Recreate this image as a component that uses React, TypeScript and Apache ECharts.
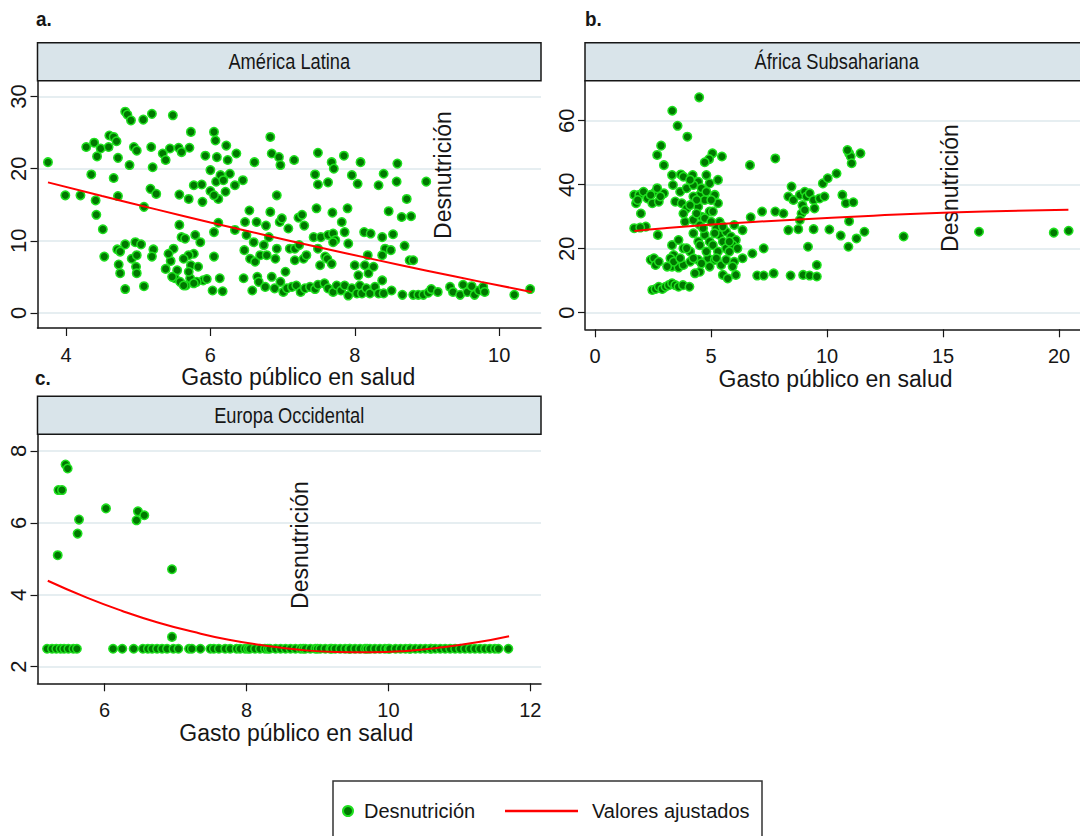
import React, { useEffect, useRef } from "react";
import * as echarts from "echarts";

const REG = "'Liberation Sans', Arial, sans-serif";

const panelTitles = ["América Latina", "África Subsahariana", "Europa Occidental"];
const panelLetters = ["a.", "b.", "c."];
const xTitle = "Gasto público en salud";
const yTitle = "Desnutrición";
const fitName = "Valores ajustados";

const xTicksA = [4, 6, 8, 10];
const yTicksA = [0, 10, 20, 30];
const xTicksB = [0, 5, 10, 15, 20];
const yTicksB = [0, 20, 40, 60];
const xTicksC = [6, 8, 10, 12];
const yTicksC = [2, 4, 6, 8];

// América Latina: [gasto, desnutrición]
const latamPoints = [
  [4.82, 27.9], [4.85, 27.5], [4.9, 26.7], [5.07, 26.8], [5.19, 27.6], [5.48, 27.4],
  [3.75, 20.9], [4.28, 23.0], [4.39, 23.6], [4.43, 21.7], [4.48, 22.8], [4.59, 23.0],
  [4.6, 24.6], [4.66, 24.4], [4.7, 23.8], [4.72, 21.5], [4.88, 20.5], [4.94, 23.0],
  [4.98, 22.5], [5.18, 23.0], [5.2, 20.2], [5.34, 22.1], [5.38, 21.2], [5.44, 22.8],
  [5.56, 22.9], [5.6, 22.3], [5.71, 22.9], [5.73, 25.1], [5.93, 21.8], [6.05, 25.1],
  [6.07, 23.9], [6.09, 21.6], [6.22, 23.2], [6.24, 21.2], [6.36, 22.1], [6.61, 20.9],
  [6.83, 24.4], [6.85, 22.1], [6.95, 21.6], [6.97, 20.5], [6.0, 19.8], [4.35, 19.2],
  [4.66, 18.7], [3.99, 16.3], [4.2, 16.3], [4.41, 15.6], [4.42, 13.6], [4.51, 11.6],
  [4.72, 16.2], [5.08, 14.7], [5.17, 17.2], [5.25, 16.5], [5.57, 16.4], [5.7, 15.8],
  [5.77, 17.7], [5.88, 17.8], [5.89, 15.4], [6.0, 16.9], [6.08, 18.2], [6.14, 19.1],
  [6.18, 18.4], [6.21, 16.8], [6.27, 19.3], [6.34, 17.7], [6.45, 18.4], [6.11, 15.8],
  [6.05, 16.3], [6.11, 12.5], [6.05, 11.2], [6.34, 11.5], [6.92, 16.3],
  [4.53, 7.8], [4.71, 8.8], [4.73, 6.7], [4.75, 5.5], [4.82, 9.5], [4.91, 7.5],
  [4.96, 9.8], [4.97, 6.4], [4.98, 5.5], [5.04, 9.5], [5.08, 3.7], [4.82, 3.3],
  [5.21, 8.8], [5.19, 7.8], [5.38, 6.1], [5.45, 7.2], [5.49, 8.9], [5.54, 5.9],
  [5.57, 12.2], [5.6, 10.5], [5.65, 10.3], [5.51, 4.8], [5.58, 4.3], [5.66, 3.8],
  [5.72, 4.8], [5.77, 8.2], [5.73, 6.6], [5.79, 10.8], [5.83, 6.4], [5.86, 9.8],
  [5.9, 4.5], [5.95, 4.7], [6.03, 3.1], [6.05, 7.8], [6.13, 4.8], [6.17, 3.0],
  [5.81, 4.3], [5.7, 8.0], [6.46, 4.8], [6.47, 8.7], [6.48, 12.6], [6.5, 10.8],
  [6.54, 14.2], [6.55, 7.5], [6.58, 3.1], [6.6, 9.8], [6.62, 7.1], [6.64, 12.6],
  [6.65, 5.0], [6.67, 4.3], [6.69, 8.0], [6.74, 9.4], [6.76, 3.6], [6.77, 12.1],
  [6.78, 8.0], [6.81, 10.5], [6.83, 14.0], [6.85, 5.0], [6.9, 7.5], [6.89, 3.4],
  [6.92, 8.9], [6.96, 12.6], [6.97, 4.3], [6.99, 13.1], [7.01, 2.9], [7.04, 5.7],
  [5.63, 7.5], [5.7, 5.7], [5.77, 4.1], [5.63, 3.8], [5.47, 5.0], [5.42, 8.2],
  [4.98, 8.0], [4.75, 8.5],
  [7.16, 21.2], [7.49, 22.2], [7.68, 20.9], [7.71, 20.0], [7.85, 21.8], [8.08, 20.9],
  [8.59, 20.7], [7.45, 19.2], [7.49, 17.8], [7.63, 18.1], [7.96, 19.1], [8.04, 17.9],
  [8.33, 17.7], [8.4, 19.3], [8.58, 18.2], [8.99, 18.2], [8.72, 15.8], [7.47, 14.5],
  [7.69, 13.9], [7.9, 14.5], [8.47, 14.1], [8.65, 13.3], [8.78, 13.4], [7.08, 11.7],
  [7.22, 13.2], [7.27, 13.6], [7.3, 12.1], [7.43, 10.5], [7.53, 10.5], [7.63, 10.8],
  [7.7, 11.0], [7.73, 10.1], [7.82, 12.6], [7.86, 11.2], [7.91, 9.6], [8.13, 11.2],
  [8.22, 11.0], [8.38, 10.5], [8.53, 10.9], [8.69, 9.3], [8.42, 8.9], [8.5, 8.7],
  [8.76, 7.3], [8.81, 7.3], [7.1, 8.9], [7.17, 8.9], [7.23, 9.4], [7.29, 7.5],
  [7.33, 8.0], [7.49, 8.9], [7.59, 7.8], [7.62, 7.5], [7.52, 6.6], [7.68, 6.8],
  [7.7, 9.8], [8.0, 6.6], [8.05, 5.2], [8.18, 8.0], [8.14, 6.6], [8.19, 5.5],
  [8.26, 6.4], [8.38, 8.0], [7.17, 7.3],
  [7.06, 3.4], [7.13, 3.6], [7.19, 3.8], [7.25, 2.9], [7.31, 3.4], [7.38, 3.6],
  [7.45, 3.3], [7.49, 3.9], [7.58, 4.1], [7.63, 3.4], [7.7, 2.9], [7.75, 3.8],
  [7.81, 3.1], [7.86, 3.8], [7.91, 2.4], [7.96, 3.4], [8.03, 2.7], [8.07, 3.8],
  [8.1, 2.7], [8.16, 3.4], [8.21, 2.7], [8.28, 3.6], [8.33, 2.7], [8.38, 4.5],
  [8.4, 2.7], [8.51, 3.1], [8.66, 2.5], [8.81, 2.5], [8.88, 2.5], [8.95, 2.5],
  [9.02, 2.8], [9.06, 3.3], [9.15, 2.9], [9.32, 3.6], [9.36, 2.9], [9.46, 2.5],
  [9.5, 3.9], [9.56, 2.9], [9.62, 3.7], [9.66, 2.5], [9.72, 3.1], [9.78, 3.6],
  [9.8, 2.9], [10.21, 2.5], [10.43, 3.3],
];
const latamFit = [
  [3.75, 18.1], [4.5, 16.2], [5.25, 14.35], [6.0, 12.54], [6.75, 10.8],
  [7.5, 9.1], [8.25, 7.45], [9.0, 5.85], [9.75, 4.3], [10.45, 2.9],
];

// África Subsahariana
const africaPoints = [
  [4.49, 67.3], [3.33, 63.1], [3.56, 58.4], [3.98, 55.0], [2.85, 52.2], [2.68, 49.3],
  [2.97, 46.1], [5.06, 49.8], [4.92, 48.0], [4.73, 47.0], [5.47, 48.8], [6.68, 46.1],
  [7.77, 48.2], [3.32, 43.0], [3.7, 43.2], [4.21, 43.0], [4.45, 40.9], [3.36, 39.9],
  [3.67, 37.8], [3.95, 38.9], [4.24, 39.9], [4.52, 36.8], [4.8, 43.0], [4.94, 40.4],
  [5.3, 41.5], [5.16, 36.8], [5.3, 34.2], [3.46, 34.7], [3.74, 34.2], [3.95, 32.6],
  [4.24, 36.3], [4.45, 33.1], [4.73, 35.2], [4.94, 31.6], [4.59, 30.0], [3.88, 28.4],
  [4.24, 29.0], [4.52, 27.4], [5.08, 31.6], [5.37, 28.4], [1.69, 36.8], [1.77, 34.2],
  [1.91, 36.8], [2.09, 37.8], [1.98, 31.0], [2.26, 35.7], [2.47, 34.2], [2.61, 37.8],
  [2.75, 34.7], [2.97, 37.3], [2.68, 38.9], [2.19, 26.9], [1.69, 26.4], [1.95, 26.6],
  [2.71, 24.3], [7.2, 31.6], [7.77, 31.6], [8.12, 31.0], [6.71, 29.8],
  [4.24, 24.8], [4.45, 22.2], [4.73, 24.3], [4.94, 22.2], [5.23, 26.4], [5.37, 24.3],
  [5.51, 22.2], [5.65, 25.3], [5.86, 23.8], [6.0, 27.4], [6.07, 22.7], [6.36, 25.8],
  [5.08, 21.1], [5.3, 19.1], [5.65, 20.1], [5.93, 21.1], [6.14, 20.1], [3.81, 20.1],
  [4.1, 19.1], [3.32, 21.1], [3.39, 18.0], [6.78, 18.5], [7.27, 20.1], [6.36, 17.0],
  [2.4, 16.5], [2.54, 17.0], [2.61, 14.9], [2.75, 15.9], [3.25, 17.0], [3.32, 14.4],
  [3.6, 14.1], [3.81, 14.9], [4.1, 15.9], [4.45, 16.5], [4.52, 12.8], [4.31, 12.3],
  [4.87, 17.0], [5.16, 16.5], [5.44, 14.9], [5.51, 11.8], [5.65, 16.5], [5.72, 10.7],
  [6.0, 15.9], [6.07, 11.8], [6.99, 11.6], [7.27, 11.6], [7.7, 12.3],
  [2.47, 7.1], [2.61, 7.4], [2.75, 8.1], [2.9, 7.4], [3.04, 8.1], [3.18, 8.6],
  [3.32, 9.2], [3.46, 8.6], [3.6, 8.1], [3.79, 8.6], [4.07, 8.1],
  [3.81, 42.5], [4.1, 41.5], [4.59, 38.9], [4.8, 37.8], [5.01, 35.2], [4.38, 35.2],
  [4.1, 33.6], [3.81, 31.0], [4.38, 31.0], [4.73, 29.5], [5.01, 28.4], [4.66, 26.4],
  [5.16, 24.8], [5.51, 26.9], [5.79, 22.2], [4.52, 21.1], [4.8, 19.1], [4.24, 17.0],
  [4.59, 15.4], [4.94, 14.4], [5.23, 17.0], [5.79, 19.1], [5.93, 14.4], [3.39, 15.9],
  [3.11, 14.4], [3.67, 17.0], [3.95, 20.1], [3.6, 22.7], [1.84, 35.2], [2.4, 36.8],
  [2.82, 36.3],
  [8.47, 39.4], [8.33, 36.3], [8.55, 35.2], [8.83, 36.8], [9.04, 37.8], [9.11, 36.3],
  [9.25, 37.3], [8.94, 33.6], [8.9, 31.0], [9.04, 32.1], [9.42, 35.2], [9.46, 32.6],
  [9.68, 35.7], [9.89, 36.3], [9.82, 40.4], [10.03, 42.0], [10.41, 43.5], [10.66, 36.8],
  [10.81, 34.2], [11.13, 34.5], [10.95, 49.8], [11.02, 48.8], [11.06, 46.7], [11.44, 49.8],
  [10.88, 50.8], [8.33, 25.8], [8.76, 26.1], [8.83, 29.0], [9.42, 26.1], [10.1, 26.0],
  [10.59, 24.1], [10.95, 28.6], [10.92, 20.6], [11.27, 23.2], [11.61, 25.3], [9.18, 20.6],
  [13.3, 23.8], [16.55, 25.3], [19.77, 25.0], [20.41, 25.6],
  [8.43, 11.6], [8.97, 11.8], [9.25, 11.6], [9.56, 11.3], [9.56, 14.9],
];
const africaFit = [
  [1.7, 25.5], [3.0, 26.4], [5.2, 27.6], [8.4, 29.0], [12.0, 30.3], [15.3, 31.3], [20.4, 32.2],
];

// Europa Occidental
const europePoints = [
  [5.45, 7.62], [5.48, 7.51], [5.35, 6.91], [5.4, 6.91], [5.34, 5.1], [5.64, 6.09],
  [5.62, 5.7], [6.02, 6.4], [6.47, 6.32], [6.45, 6.07], [6.56, 6.21], [6.95, 4.71],
  [6.95, 2.83],
  [5.19, 2.5], [5.26, 2.5], [5.32, 2.5], [5.38, 2.5], [5.43, 2.5], [5.49, 2.5],
  [5.56, 2.5], [5.61, 2.5], [6.12, 2.5], [6.25, 2.5], [6.41, 2.5], [6.54, 2.5],
  [6.61, 2.5], [6.67, 2.5], [6.74, 2.5], [6.81, 2.5], [6.88, 2.5], [6.97, 2.5],
  [7.04, 2.5], [7.19, 2.5], [7.23, 2.5], [7.35, 2.5], [7.49, 2.5], [7.54, 2.5],
  [7.61, 2.5], [7.7, 2.5], [7.77, 2.5], [7.86, 2.5], [7.91, 2.5], [7.98, 2.5],
  [8.02, 2.5], [8.05, 2.5], [8.12, 2.5], [8.19, 2.5], [8.26, 2.5], [8.3, 2.5],
  [8.33, 2.5], [8.41, 2.5], [8.48, 2.5], [8.55, 2.5], [8.62, 2.5], [8.69, 2.5],
  [8.76, 2.5], [8.8, 2.5], [8.83, 2.5], [8.9, 2.5], [8.97, 2.5], [9.0, 2.5],
  [9.04, 2.5], [9.11, 2.5], [9.18, 2.5], [9.2, 2.5], [9.25, 2.5], [9.32, 2.5],
  [9.39, 2.5], [9.45, 2.5], [9.46, 2.5], [9.53, 2.5], [9.6, 2.5], [9.67, 2.5],
  [9.7, 2.5], [9.74, 2.5], [9.81, 2.5], [9.88, 2.5], [9.95, 2.5], [10.0, 2.5],
  [10.02, 2.5], [10.1, 2.5], [10.17, 2.5], [10.24, 2.5], [10.3, 2.5], [10.31, 2.5],
  [10.38, 2.5], [10.45, 2.5], [10.52, 2.5], [10.59, 2.5], [10.6, 2.5], [10.66, 2.5],
  [10.73, 2.5], [10.8, 2.5], [10.87, 2.5], [10.94, 2.5], [11.01, 2.5], [11.08, 2.5],
  [11.15, 2.5], [11.22, 2.5], [11.29, 2.5], [11.36, 2.5], [11.43, 2.5], [11.5, 2.5],
  [11.55, 2.5], [11.69, 2.5],
];
const europeFit = [
  [5.2, 4.39], [5.75, 3.92], [6.25, 3.55], [6.75, 3.23], [7.25, 2.97], [7.75, 2.75],
  [8.25, 2.59], [8.75, 2.47], [9.25, 2.41], [9.75, 2.4], [10.25, 2.44], [10.75, 2.54],
  [11.25, 2.68], [11.7, 2.85],
];

const INK = "#161616";
const HEADER_FILL = "#d9e4ea";
const GRID_LINE = "#e6eef1";
const NARROW_SCALE = 0.83;

type PanelLayout = {
  left: number; top: number; width: number; height: number;
  xMin: number; xMax: number; yMin: number; yMax: number;
  xTicks: number[]; yTicks: number[]; nameGap: number; namePad: number;
  descX: number; descY: number;
};

const panels: PanelLayout[] = [
  { left: 37.5, top: 80.7, width: 503.5, height: 247.3, xMin: 3.605, xMax: 10.58, yMin: -2.1, yMax: 32.2,
    xTicks: xTicksA, yTicks: yTicksA, nameGap: 28, namePad: 18, descX: 443, descY: 175 },
  { left: 585, top: 80.7, width: 503.5, height: 248.6, xMin: -0.43, xMax: 20.9, yMin: -5.2, yMax: 72.5,
    xTicks: xTicksB, yTicks: yTicksB, nameGap: 29, namePad: 6, descX: 950, descY: 188 },
  { left: 37.5, top: 434.3, width: 503.5, height: 249, xMin: 5.055, xMax: 12.15, yMin: 1.54, yMax: 8.46,
    xTicks: xTicksC, yTicks: yTicksC, nameGap: 33, namePad: 14, descX: 300, descY: 545 },
];
const pointSets = [latamPoints, africaPoints, europePoints];
const fitSets = [latamFit, africaFit, europeFit];

export default function App() {
  const ref = useRef<HTMLDivElement>(null);
  useEffect(() => {
    if (!ref.current) return;
    const chart = echarts.init(ref.current, undefined, { renderer: "svg" });

    const grid = panels.map((p) => ({ left: p.left, top: p.top, width: p.width, height: p.height, containLabel: false }));
    const xAxis = panels.map((p, i) => ({
      type: "value", gridIndex: i, min: p.xMin, max: p.xMax,
      axisLine: { show: true, onZero: false, lineStyle: { color: INK, width: 1.5 } },
      axisTick: { show: true, length: 8, customValues: p.xTicks, lineStyle: { color: INK, width: 1.2 } },
      axisLabel: { show: true, customValues: p.xTicks, fontFamily: REG, fontSize: 20, color: INK, margin: 17 },
      splitLine: { show: false },
      name: xTitle, nameLocation: "middle", nameGap: p.nameGap,
      nameTextStyle: { fontFamily: REG, fontSize: 23, color: INK, padding: [0, 0, 0, p.namePad] },
    }));
    const yAxis = panels.map((p, i) => ({
      type: "value", gridIndex: i, min: p.yMin, max: p.yMax,
      axisLine: { show: true, onZero: false, lineStyle: { color: INK, width: 1.5 } },
      axisTick: { show: true, length: 7, customValues: p.yTicks, lineStyle: { color: INK, width: 1.2 } },
      axisLabel: { show: true, customValues: p.yTicks, rotate: 90, fontFamily: REG, fontSize: 22, color: INK, margin: 8 },
      splitLine: { show: true, lineStyle: { color: GRID_LINE, width: 2 } },
    }));
    const series: any[] = [];
    panels.forEach((_, i) => {
      series.push({
        type: "scatter", name: yTitle, xAxisIndex: i, yAxisIndex: i, data: pointSets[i],
        symbol: "circle", symbolSize: 8.5, z: 3,
        itemStyle: { color: "#007800", borderColor: "#1fe01f", borderWidth: 1.5, opacity: 1 },
      });
      series.push({
        type: "line", name: fitName, xAxisIndex: i, yAxisIndex: i, data: fitSets[i],
        smooth: true, symbol: "none", showSymbol: false, z: 4,
        lineStyle: { color: "#ff0000", width: 2 },
        itemStyle: { color: "#ff0000" },
      });
    });

    const graphic: any[] = [];
    panels.forEach((p, i) => {
      graphic.push({
        type: "rect", shape: { x: p.left, y: p.top - 38, width: p.width, height: 38 },
        style: { fill: HEADER_FILL, stroke: INK, lineWidth: 1.5 }, z: 1,
      });
      graphic.push({
        type: "text", x: p.left + p.width / 2, y: p.top - 19, scaleX: NARROW_SCALE, z: 2,
        style: { text: panelTitles[i], fontFamily: REG, fontSize: 22, fill: INK, align: "center", verticalAlign: "middle" },
      });
      graphic.push({
        type: "text", x: p.descX, y: p.descY, rotation: Math.PI / 2, z: 2,
        style: { text: yTitle, fontFamily: REG, fontSize: 23, fill: INK, align: "center", verticalAlign: "middle" },
      });
    });
    const letterPos = [[36, 19], [585, 19], [35, 378]];
    panelLetters.forEach((t, i) => {
      graphic.push({
        type: "text", x: letterPos[i][0], y: letterPos[i][1], scaleX: 0.9, z: 2,
        style: { text: t, fontFamily: REG, fontWeight: "bold", fontSize: 21, fill: INK, align: "left", verticalAlign: "middle" },
      });
    });
    graphic.push({
      type: "rect", shape: { x: 333, y: 781, width: 429, height: 80 },
      style: { fill: "#ffffff", stroke: "#333333", lineWidth: 1.5 }, z: 0,
    });

    chart.setOption({
      animation: false,
      backgroundColor: "#ffffff",
      grid, xAxis, yAxis, series, graphic,
      legend: [
        {
          data: [yTitle], left: 342, top: 801, padding: 0, itemWidth: 10, itemHeight: 10,
          textStyle: { fontFamily: REG, fontSize: 20, color: INK, padding: [0, 0, 0, 6] },
          selectedMode: false,
        },
        {
          data: [{ name: fitName, icon: "rect" }], left: 505, top: 801, padding: 0, itemWidth: 73, itemHeight: 2.5,
          textStyle: { fontFamily: REG, fontSize: 20, color: INK, padding: [0, 0, 0, 9] },
          selectedMode: false,
        },
      ],
    });
    return () => chart.dispose();
  }, []);
  return <div ref={ref} style={{ position: "absolute", left: 0, top: 0, width: 1080, height: 836 }} />;
}
